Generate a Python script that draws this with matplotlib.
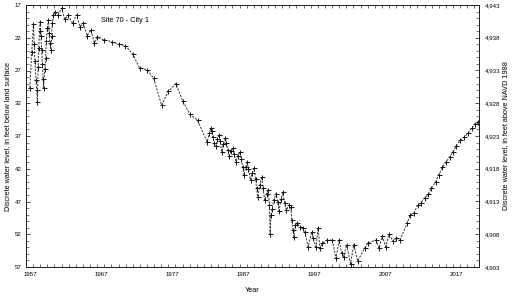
import matplotlib
matplotlib.use('Agg')
import matplotlib.pyplot as plt
import numpy as np
from matplotlib import font_manager
from matplotlib.ticker import FixedLocator, FuncFormatter

# Water level record, site 70 (decimal year, depth to water in feet)
years = [
    1957.00, 1957.25, 1957.50, 1957.60, 1957.70, 1957.85, 1957.95, 1958.05,
    1958.15, 1958.25, 1958.35, 1958.45, 1958.55, 1958.65, 1958.75, 1958.85,
    1958.92, 1959.10, 1959.20, 1959.30, 1959.45, 1959.60, 1959.70, 1959.80,
    1959.92, 1960.05, 1960.15, 1960.30, 1960.50, 1961.00, 1961.45, 1961.90,
    1962.35, 1963.00, 1963.55, 1964.05, 1964.50, 1965.05, 1965.55, 1966.05,
    1966.40, 1967.35, 1968.50, 1969.50, 1970.40, 1971.45, 1972.40, 1973.50,
    1974.40, 1975.50, 1976.45, 1977.50, 1978.45, 1979.50, 1980.55, 1981.90,
    1982.20, 1982.45, 1982.55, 1982.70, 1982.90, 1983.15, 1983.35, 1983.60,
    1983.75, 1983.95, 1984.20, 1984.45, 1984.60, 1984.80, 1985.00, 1985.25,
    1985.50, 1985.70, 1985.95, 1986.20, 1986.50, 1986.70, 1986.90, 1987.10,
    1987.30, 1987.55, 1987.70, 1988.00, 1988.25, 1988.50, 1988.70, 1988.85,
    1989.00, 1989.30, 1989.55, 1989.75, 1990.00, 1990.25, 1990.50, 1990.65,
    1990.75, 1990.85, 1991.05, 1991.25, 1991.60, 1991.80, 1992.00, 1992.30,
    1992.50, 1992.80, 1993.05, 1993.35, 1993.65, 1993.80, 1993.95, 1994.10,
    1994.30, 1994.50, 1995.00, 1995.40, 1995.60, 1996.10, 1996.60, 1996.80,
    1997.20, 1997.50, 1997.75, 1998.10, 1998.70, 1999.50, 2000.00, 2000.45,
    2000.80, 2001.10, 2001.50, 2002.05, 2002.50, 2003.05, 2004.05, 2004.50,
    2005.60, 2006.05, 2006.50, 2007.00, 2007.45, 2008.05, 2008.50, 2009.00,
    2010.00, 2010.45, 2010.95, 2011.50, 2011.95, 2012.50, 2013.00, 2013.40,
    2014.00, 2014.45, 2014.95, 2015.50, 2016.00, 2016.45, 2016.90, 2017.50,
    2018.00, 2018.60, 2019.05, 2019.50, 2019.95,
]
depth_ft = [
    29.6, 24.2, 19.9, 23.0, 25.5, 28.5, 30.0, 31.8,
    26.5, 23.5, 21.0, 19.6, 21.8, 23.9, 26.0, 28.3,
    29.6, 26.8, 25.1, 22.5, 20.5, 19.3, 21.3, 22.8,
    23.8, 21.8, 19.8, 18.6, 18.0, 18.5, 17.5, 19.2,
    18.6, 19.8, 18.5, 20.3, 19.8, 21.7, 20.8, 22.8,
    21.9, 22.3, 22.6, 23.0, 23.2, 24.5, 26.6, 26.9,
    28.2, 32.3, 30.2, 29.0, 31.6, 33.7, 34.6, 37.9,
    36.6, 35.8, 36.3, 37.2, 38.0, 38.6, 37.5, 36.8,
    37.8, 39.4, 38.2, 37.3, 38.0, 39.1, 40.1, 39.3,
    38.8, 39.8, 40.9, 40.0, 39.4, 40.5, 41.8, 43.0,
    41.8, 40.9, 42.0, 43.7, 42.6, 41.9, 43.5, 45.0,
    46.3, 44.5, 43.2, 45.0, 46.8, 45.8, 45.2, 47.5,
    52.0, 49.1, 48.2, 46.8, 45.8, 47.0, 48.4, 46.6,
    45.6, 47.3, 48.3, 47.6, 47.8, 49.8, 51.4, 52.4,
    50.6, 50.3, 50.9, 51.1, 51.6, 53.9, 51.6, 52.6,
    53.9, 51.1, 54.1, 53.4, 52.9, 52.9, 55.7, 52.9,
    54.9, 55.4, 53.6, 56.5, 53.6, 56.1, 54.1, 53.3,
    52.9, 54.1, 52.3, 53.9, 52.0, 53.1, 52.5, 52.9,
    50.3, 49.0, 48.8, 47.5, 47.2, 46.4, 45.9, 45.0,
    44.0, 42.9, 41.8, 40.9, 40.2, 39.4, 38.5, 37.6,
    37.2, 36.5, 35.8, 35.2, 34.8,
]

land_surface = 4960  # feet above NAVD 1988
year_labels = [1957, 1967, 1977, 1987, 1997, 2007, 2017]
depth_labels = [17, 22, 27, 32, 37, 42, 47, 52, 57]


def pick_font():
    for name in ('Liberation Sans Narrow', 'Liberation Sans'):
        try:
            font_manager.findfont(name, fallback_to_default=False)
            return name
        except ValueError:
            pass
    return 'DejaVu Sans'


plt.rcParams['font.family'] = [pick_font(), 'DejaVu Sans']
plt.rcParams['font.size'] = 4.4

fig = plt.figure(figsize=(5.14, 2.96), dpi=100)
ax = fig.add_axes([26 / 514, 29 / 296, 453 / 514, 262 / 296])

ax.plot(years, depth_ft, color='#333333', lw=0.7, ls=(0, (2.2, 1.4)),
        marker='+', ms=3.6, mew=0.7, mec='#111111')

ax.set_xlim(1956.45, 2020.1)
ax.set_ylim(57, 17)

for s in ax.spines.values():
    s.set_linewidth(0.7)
    s.set_color('#222222')

ax.xaxis.set_major_locator(FixedLocator(year_labels))
ax.xaxis.set_minor_locator(FixedLocator(np.arange(1957.45, 2020, 1.0)))
ax.yaxis.set_major_locator(FixedLocator(depth_labels))
ax.yaxis.set_minor_locator(FixedLocator(np.arange(17, 58, 1)))

ax.tick_params(axis='x', which='major', length=0, pad=3.5, top=True)
ax.tick_params(axis='x', which='minor', direction='in', length=2.3,
               width=0.6, color='#555555', top=True)
ax.tick_params(axis='y', which='major', direction='in', length=3,
               width=0.6, pad=3, color='#333333')
ax.tick_params(axis='y', which='minor', direction='in', length=2,
               width=0.6, color='#666666')

ax2 = ax.twinx()
ax2.set_ylim(land_surface - 57, land_surface - 17)
ax2.yaxis.set_major_locator(FixedLocator([land_surface - d for d in depth_labels]))
ax2.yaxis.set_minor_locator(FixedLocator(np.arange(land_surface - 57, land_surface - 16, 1)))
ax2.yaxis.set_major_formatter(FuncFormatter(lambda v, p: f'{int(round(v)):,}'))
ax2.tick_params(axis='y', which='major', direction='in', length=3,
                width=0.6, pad=4, color='#333333')
ax2.tick_params(axis='y', which='minor', direction='in', length=2,
                width=0.6, color='#666666')
for s in ax2.spines.values():
    s.set_linewidth(0.7)
    s.set_color('#222222')

ax.text(1967.0, 19.3, 'Site 70 - City 1', fontsize=5.3, va='center', ha='left')
ax.set_xlabel('Year', fontsize=5.2, va='center')
ax.xaxis.set_label_coords((252 - 26) / 453, -(291 - 267) / 262)
ax.set_ylabel('Discrete water level, in feet below land surface', fontsize=5.2,
              va='center')
ax.yaxis.set_label_coords((8 - 26) / 453, 0.5)
ax2.set_ylabel('Discrete water level, in feet above NAVD 1988', fontsize=5.2,
               rotation=90, va='center')
ax2.yaxis.set_label_coords((506 - 26) / 453, 0.5)

fig.savefig('out.png', dpi=100)
